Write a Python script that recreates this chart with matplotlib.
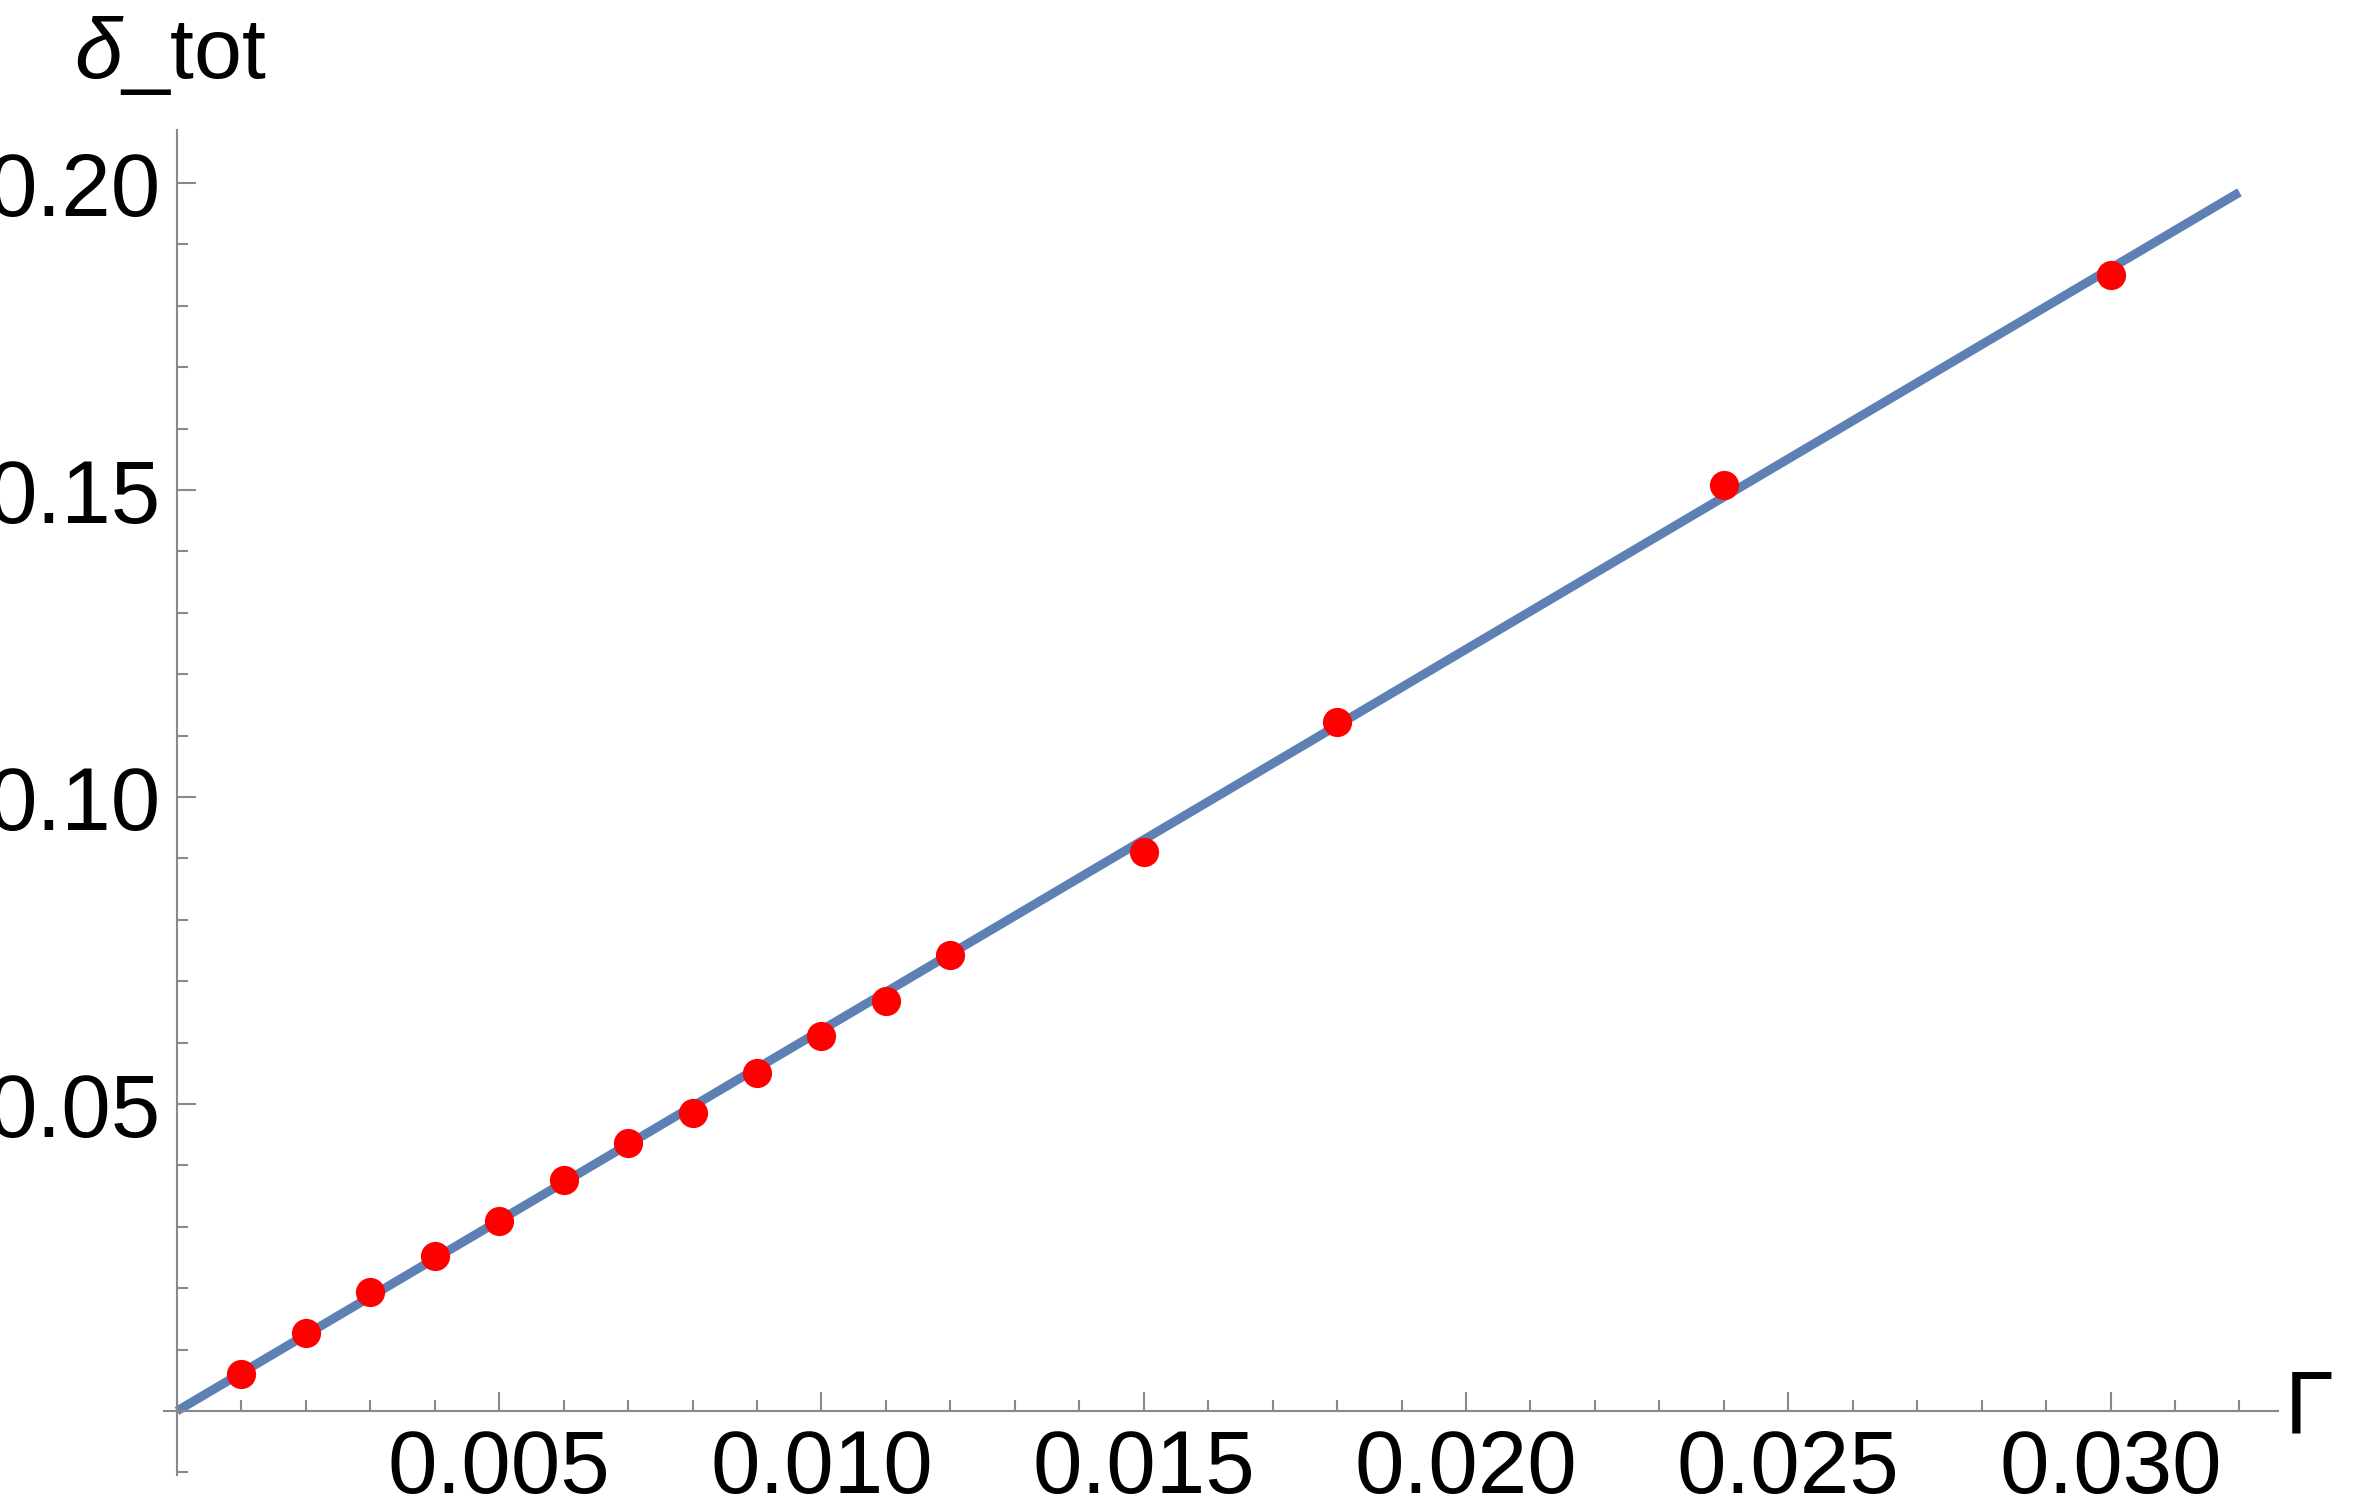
import matplotlib.pyplot as plt
from matplotlib.ticker import MultipleLocator, FormatStrFormatter

plt.rcParams["font.family"] = ["Liberation Sans", "DejaVu Sans"]
plt.rcParams["mathtext.fontset"] = "custom"
plt.rcParams["mathtext.it"] = "Liberation Sans:italic"

# data
gamma = [0.001, 0.002, 0.003, 0.004, 0.005, 0.006, 0.007, 0.008,
         0.009, 0.010, 0.011, 0.012, 0.015, 0.018, 0.024, 0.030]
delta_tot = [0.0060, 0.0127, 0.0194, 0.0253, 0.0310, 0.0377, 0.0437, 0.0486,
             0.0551, 0.0610, 0.0667, 0.0742, 0.0911, 0.1122, 0.1509, 0.1851]
fit_x = [0.0, 0.032]
fit_y = [0.0, 0.1985]

fig = plt.figure(figsize=(23.78, 15.08), dpi=100)
ax = fig.add_axes([0.069, 0.022, 0.889, 0.892])

ax.plot(fit_x, fit_y, color="#5E81B5", lw=6.5, solid_capstyle="butt", zorder=2)
ax.plot(gamma, delta_tot, "o", color="red", ms=20, zorder=3)

for side in ("top", "right"):
    ax.spines[side].set_visible(False)
for side in ("left", "bottom"):
    ax.spines[side].set_position(("data", 0))
    ax.spines[side].set_color("#888888")
    ax.spines[side].set_linewidth(1.5)

ax.set_xticks([0.005, 0.010, 0.015, 0.020, 0.025, 0.030])
ax.set_yticks([0.05, 0.10, 0.15, 0.20])
ax.xaxis.set_minor_locator(MultipleLocator(0.001))
ax.yaxis.set_minor_locator(MultipleLocator(0.01))
ax.xaxis.set_major_formatter(FormatStrFormatter("%.3f"))
ax.yaxis.set_major_formatter(FormatStrFormatter("%.2f"))
ax.tick_params(which="both", direction="in", color="#888888", width=1.5,
               labelsize=64, pad=12)
ax.tick_params(which="major", length=14)
ax.tick_params(which="minor", length=8)

ax.set_xlim(-0.0002, 0.0326)
ax.set_ylim(-0.0104, 0.2087)

ax.text(-0.0001, 0.214, r"$\delta$_tot", fontsize=62, ha="center", va="bottom",
        clip_on=False)
ax.text(0.0327, 0.0, "Γ", fontsize=64, ha="left", va="center", clip_on=False)

fig.savefig("out.png", dpi=100)
